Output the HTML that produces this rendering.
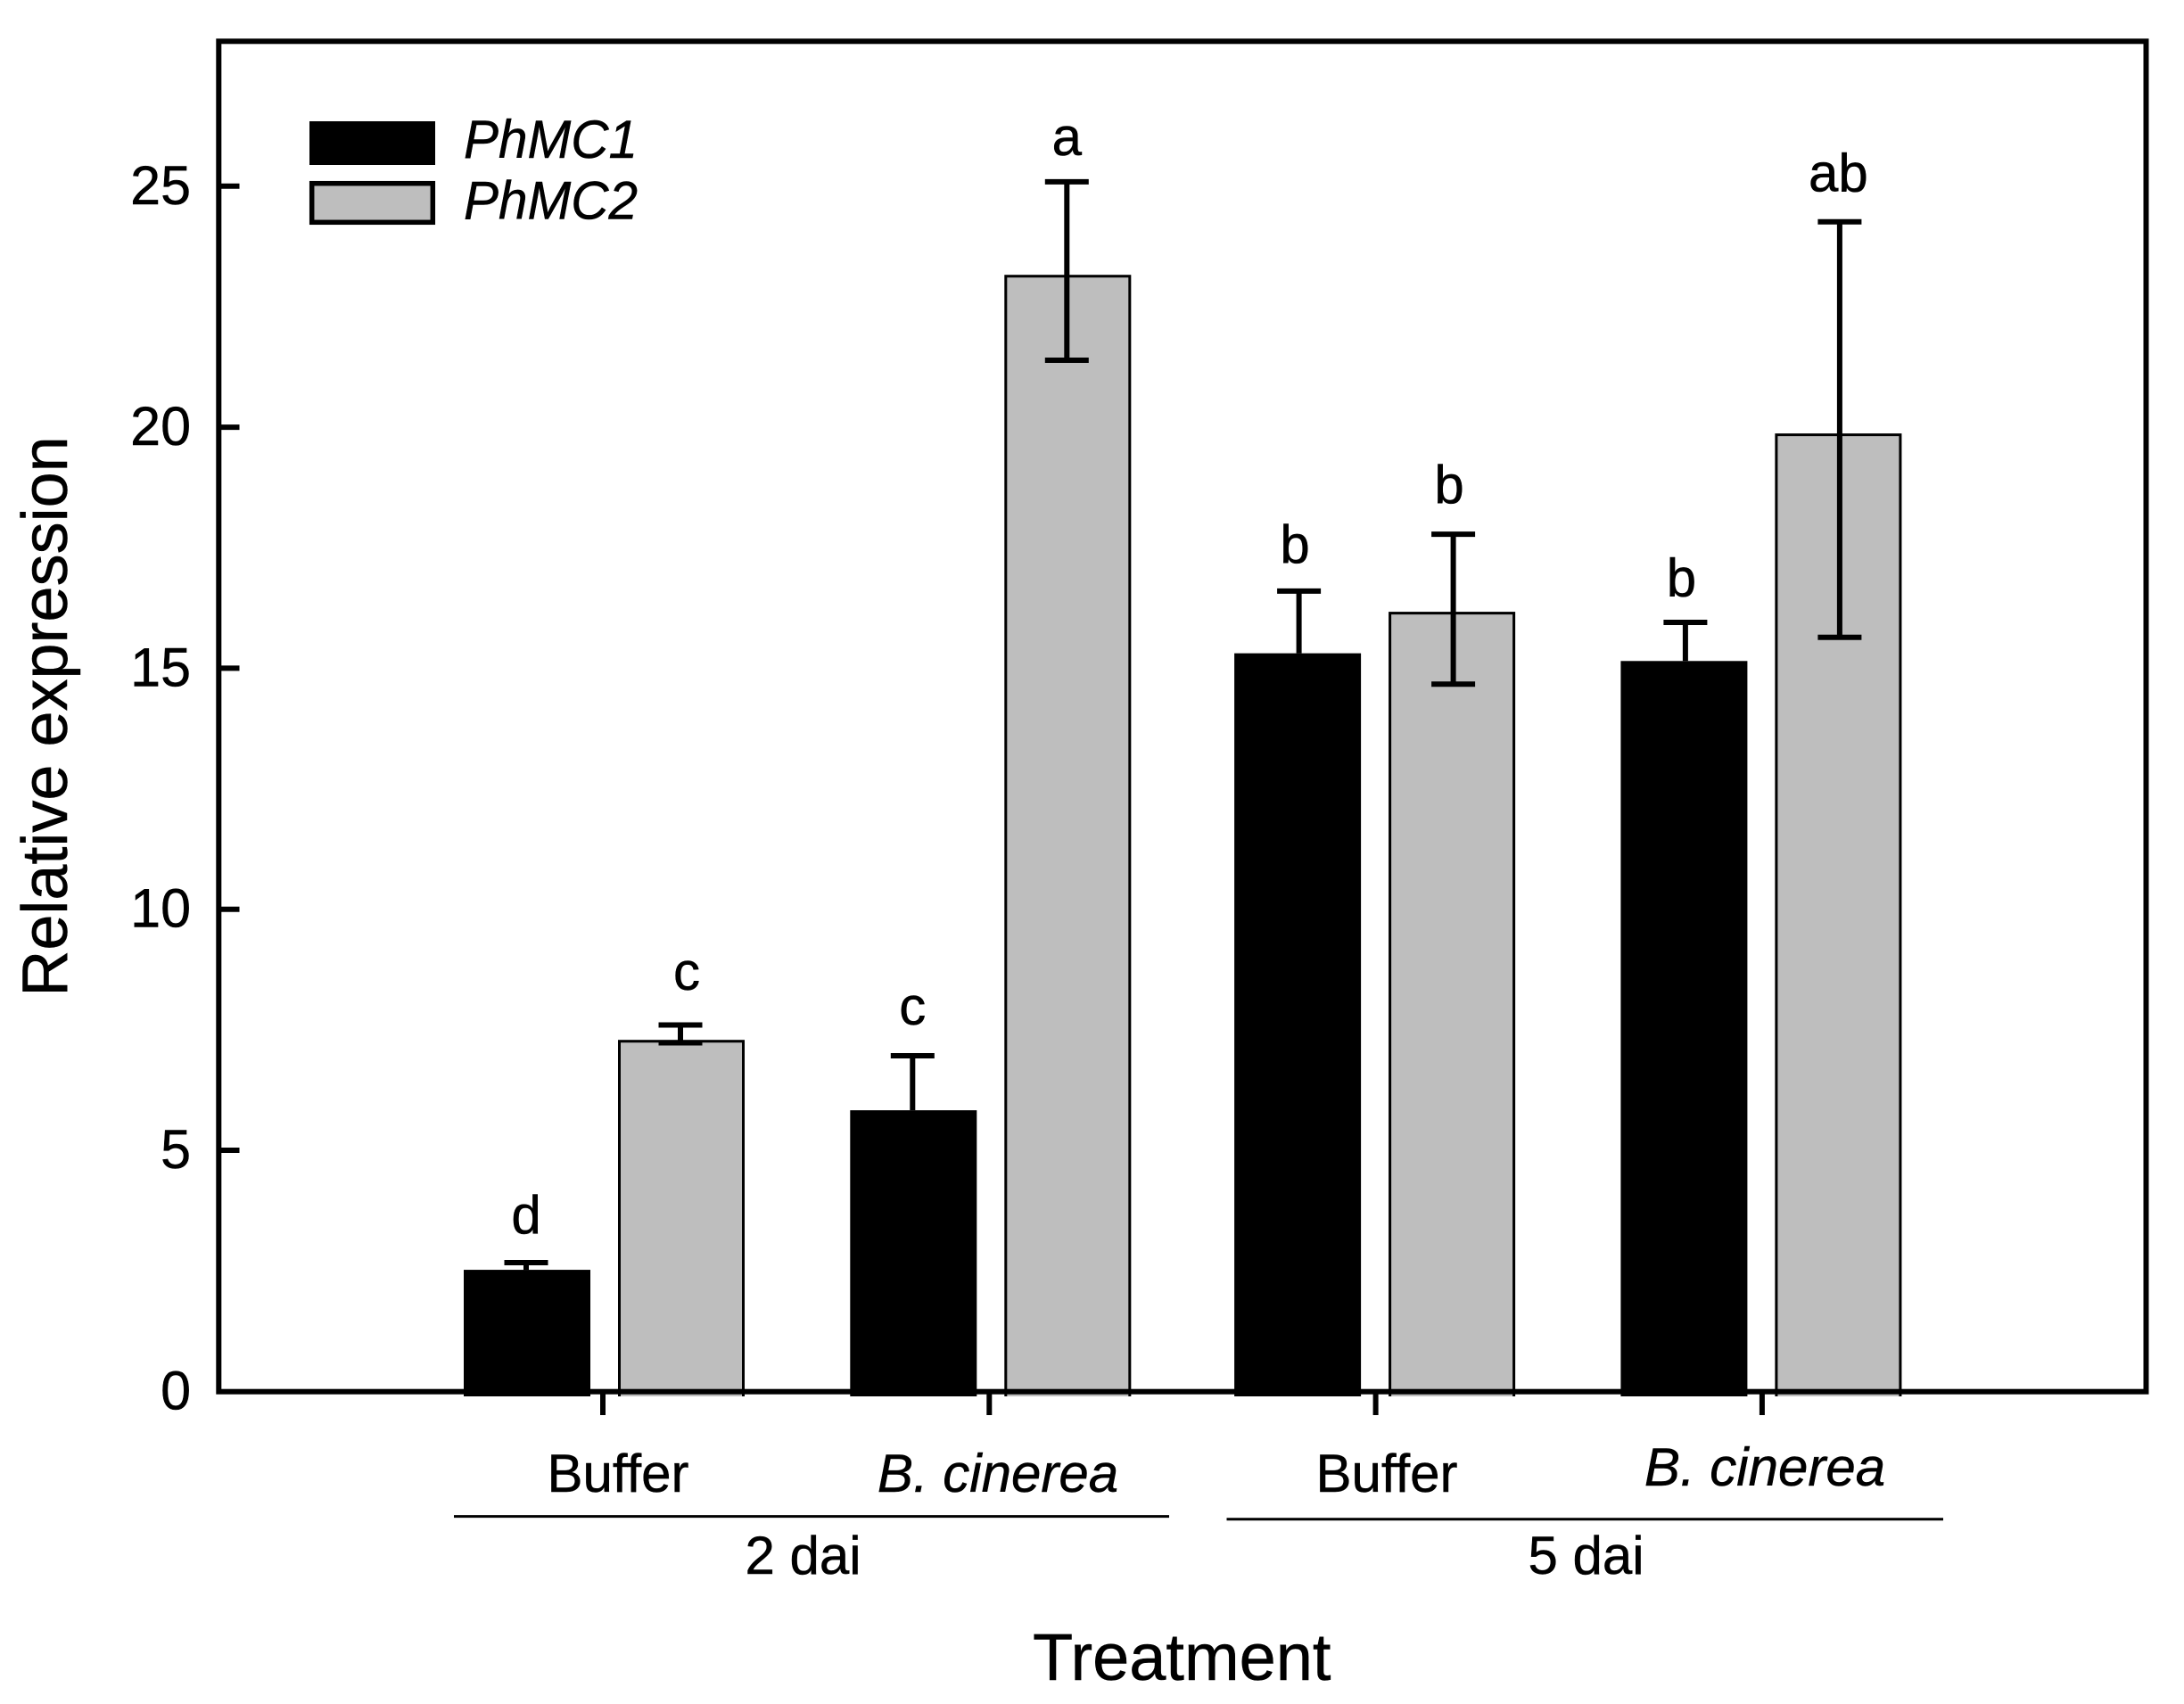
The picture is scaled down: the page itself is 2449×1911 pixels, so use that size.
<!DOCTYPE html>
<html lang="en">
<head>
<meta charset="utf-8">
<title>Relative expression of PhMC1 and PhMC2</title>
<style>
html,body{margin:0;padding:0;background:#fff;width:2449px;height:1911px;overflow:hidden}
svg{display:block}
text{font-family:"Liberation Sans",sans-serif;fill:#000;stroke:#000;stroke-width:.5px}
.i{font-style:italic}
</style>
</head>
<body>
<svg id="chart" xmlns="http://www.w3.org/2000/svg" width="2449" height="1911" viewBox="0 0 2449 1911">
  <rect x="0" y="0" width="2449" height="1911" fill="#fff"/>
  <g id="gray-layer"></g>
  <rect x="245.3" y="46.3" width="2161.2" height="1514.4" fill="none" stroke="#000" stroke-width="6"/>
  <g id="black-layer"></g>
  <g id="axis-layer"></g>
  <g id="error-layer"></g>
  <g id="letter-layer"></g>

  <g>
    <rect x="347" y="136" width="141" height="49" fill="#000"/>
    <text class="i" x="520" y="177" font-size="60" textLength="195" lengthAdjust="spacingAndGlyphs">PhMC1</text>
    <rect x="349.7" y="205.7" width="135.6" height="43.6" fill="#bebebe" stroke="#000" stroke-width="5.5"/>
    <text class="i" x="520" y="245.5" font-size="60" textLength="195" lengthAdjust="spacingAndGlyphs">PhMC2</text>
  </g>

  <text font-size="72" text-anchor="middle" transform="translate(75 803.5) rotate(-90)">Relative expression</text>
  <text font-size="74" x="1158" y="1884">Treatment</text>

  <text font-size="60" text-anchor="middle" x="693" y="1673">Buffer</text>
  <text class="i" font-size="60" text-anchor="middle" x="1119" y="1673">B. cinerea</text>
  <text font-size="60" text-anchor="middle" x="1555" y="1673">Buffer</text>
  <text class="i" font-size="60" text-anchor="middle" x="1979" y="1666">B. cinerea</text>

  <line x1="509" y1="1700.6" x2="1311" y2="1700.6" stroke="#000" stroke-width="3"/>
  <line x1="1375.5" y1="1703.7" x2="2179" y2="1703.7" stroke="#000" stroke-width="3"/>
  <text font-size="60" text-anchor="middle" x="900.5" y="1765">2 dai</text>
  <text font-size="60" text-anchor="middle" x="1778.5" y="1765">5 dai</text>
</svg>
<script>
const categories = ['buffer-2dai', 'bcinerea-2dai', 'buffer-5dai', 'bcinerea-5dai'];
const phmc1Values = [2.52, 5.83, 15.31, 15.15];
const phmc1ErrTop = [2.67, 6.96, 16.60, 15.95];
const phmc2Values = [7.29, 23.16, 16.17, 19.87];
const phmc2ErrTop = [7.60, 25.09, 17.78, 24.26];
const phmc2ErrBottom = [7.23, 21.39, 14.67, 15.64];
const phmc1Letters = ['d', 'c', 'b', 'b'];
const phmc2Letters = ['c', 'a', 'b', 'ab'];
const phmc1LetterLift = [0.61, 0.65, 0.59, 0.55];
const phmc2LetterLift = [0.73, 0.55, 0.65, 0.63];
const yTickLabels = [0, 5, 10, 15, 20, 25];

const NS = 'http://www.w3.org/2000/svg';
function yScale(v) { return 1560.3 - 54.06 * v; }
function xScale(i) { return 676 + 433.3 * i; }
const BAR_W = 142;
const OFFSET_1 = -86;
const OFFSET_2 = 87;
const BAR_BOTTOM = 1566;
const CAP_HALF = 24.5;
function barNudge(i) { return i < 2 ? 1 : -1.5; }
function letterNudge1(i) { return i < 2 ? 0 : -4.5; }
function letterNudge2(i) { return i === 0 ? 7 : (i === 1 ? 0 : (i === 2 ? -4.5 : -1.5)); }

function make(tag, attrs, parent) {
  const el = document.createElementNS(NS, tag);
  for (const k in attrs) el.setAttribute(k, attrs[k]);
  parent.appendChild(el);
  return el;
}

const grayLayer = document.getElementById('gray-layer');
const blackLayer = document.getElementById('black-layer');
const axisLayer = document.getElementById('axis-layer');
const errorLayer = document.getElementById('error-layer');
const letterLayer = document.getElementById('letter-layer');

yTickLabels.forEach(function (t) {
  const y = yScale(t);
  if (t !== 0) {
    const tick = make('line', {x1: 245.5, y1: y, x2: 268.5, y2: y, stroke: '#000', 'stroke-width': 6}, axisLayer);
    
    
  }
  const label = make('text', {x: 214, y: y + 20, 'font-size': 61, 'text-anchor': 'end'}, axisLayer);
  label.textContent = String(t);
  
  
});

categories.forEach(function (cat, i) {
  const cx = xScale(i);

  const xTick = make('line', {x1: cx, y1: 1560.3, x2: cx, y2: 1587, stroke: '#000', 'stroke-width': 6}, axisLayer);
  
  

  const x1 = cx + OFFSET_1;
  const bx1 = x1 + barNudge(i);
  const bar1 = make('rect', {x: bx1 - BAR_W / 2, y: yScale(phmc1Values[i]), width: BAR_W, height: BAR_BOTTOM - yScale(phmc1Values[i]), fill: '#000'}, blackLayer);
  
  

  const x2 = cx + OFFSET_2;
  const bx2 = x2 + barNudge(i);
  const top2 = yScale(phmc2Values[i]);
  const bar2 = make('rect', {x: bx2 - BAR_W / 2, y: top2, width: BAR_W, height: BAR_BOTTOM - top2, fill: '#bebebe'}, grayLayer);
  
  

  const outline = make('path', {d: 'M' + (bx2 - BAR_W / 2 + 1.5) + ' ' + BAR_BOTTOM + 'V' + (top2 + 1.5) + 'H' + (bx2 + BAR_W / 2 - 1.5) + 'V' + BAR_BOTTOM, fill: 'none', stroke: '#000', 'stroke-width': 3}, grayLayer);
  
  

  const yt1 = yScale(phmc1ErrTop[i]);
  const err1 = make('path', {d: 'M' + x1 + ' ' + yScale(phmc1Values[i]) + 'V' + yt1 + 'M' + (x1 - CAP_HALF) + ' ' + yt1 + 'H' + (x1 + CAP_HALF), fill: 'none', stroke: '#000', 'stroke-width': 6}, errorLayer);
  
  

  const yt2 = yScale(phmc2ErrTop[i]);
  const yb2 = yScale(phmc2ErrBottom[i]);
  const err2 = make('path', {d: 'M' + x2 + ' ' + yb2 + 'V' + yt2 + 'M' + (x2 - CAP_HALF) + ' ' + yt2 + 'H' + (x2 + CAP_HALF) + 'M' + (x2 - CAP_HALF) + ' ' + yb2 + 'H' + (x2 + CAP_HALF), fill: 'none', stroke: '#000', 'stroke-width': 6}, errorLayer);
  
  

  const letter1 = make('text', {x: x1 + letterNudge1(i), y: yScale(phmc1ErrTop[i] + phmc1LetterLift[i]), 'font-size': 60, 'text-anchor': 'middle'}, letterLayer);
  letter1.textContent = phmc1Letters[i];
  
  

  const letter2 = make('text', {x: x2 + letterNudge2(i), y: yScale(phmc2ErrTop[i] + phmc2LetterLift[i]), 'font-size': 60, 'text-anchor': 'middle'}, letterLayer);
  letter2.textContent = phmc2Letters[i];
  
  
});
</script>
</body>
</html>
